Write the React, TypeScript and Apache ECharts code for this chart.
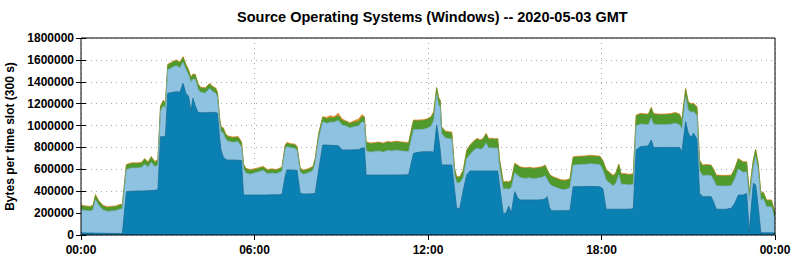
import React, { useEffect, useRef } from "react";
import * as echarts from "echarts";

// time in hours (GMT)
const hours = [
  0.0, 0.17, 0.33, 0.42, 0.5, 0.6, 0.75, 0.9, 1.05, 1.2, 1.35, 1.43, 1.57, 1.75, 1.95, 2.1, 2.2, 2.32, 2.43, 2.55,
  2.66, 2.75, 2.85, 2.92, 3.0, 3.1, 3.2, 3.3, 3.42, 3.53, 3.63, 3.72, 3.8, 3.87, 3.95, 4.05, 4.14, 4.3, 4.45, 4.55,
  4.67, 4.72, 4.79, 4.84, 4.92, 5.0, 5.08, 5.25, 5.43, 5.55, 5.62, 5.7, 5.85, 6.0, 6.1, 6.3, 6.45, 6.6, 6.75, 6.95,
  7.06, 7.12, 7.25, 7.4, 7.47, 7.58, 7.7, 7.85, 8.02, 8.1, 8.22, 8.36, 8.5, 8.62, 8.75, 8.9, 9.03, 9.15, 9.3, 9.45,
  9.6, 9.72, 9.8, 9.86, 10.0, 10.15, 10.3, 10.45, 10.6, 10.75, 10.9, 11.1, 11.33, 11.5, 11.65, 11.8, 11.95, 12.1, 12.2, 12.3,
  12.36, 12.42, 12.47, 12.6, 12.7, 12.82, 12.92, 12.99, 13.1, 13.22, 13.34, 13.45, 13.58, 13.7, 13.8, 13.9, 14.01, 14.1, 14.2, 14.3,
  14.41, 14.47, 14.6, 14.7, 14.79, 14.88, 15.0, 15.1, 15.18, 15.35, 15.5, 15.65, 15.8, 15.95, 16.05, 16.12, 16.2, 16.27, 16.45, 16.6,
  16.75, 16.91, 17.02, 17.2, 17.4, 17.6, 17.8, 17.95, 18.05, 18.16, 18.3, 18.4, 18.5, 18.6, 18.68, 18.8, 18.95, 19.1, 19.2, 19.35,
  19.5, 19.62, 19.72, 19.8, 20.0, 20.2, 20.4, 20.55, 20.7, 20.78, 20.91, 21.0, 21.1, 21.18, 21.3, 21.39, 21.5, 21.65, 21.79, 21.88,
  21.97, 22.15, 22.3, 22.49, 22.61, 22.73, 22.9, 23.02, 23.11, 23.25, 23.33, 23.42, 23.51, 23.59, 23.71, 23.88, 24.0,
];

// bytes per slot, in thousands
const darkBlue = [
  20, 18, 18, 18, 17, 17, 16, 15, 15, 14, 14, 14, 396, 400, 402, 403, 403, 405, 407, 408,
  415, 898, 900, 900, 1295, 1300, 1305, 1310, 1305, 1386, 1290, 1270, 1130, 1249, 1180, 1120, 1117, 1117, 1120, 1120,
  1120, 1110, 900, 777, 715, 690, 685, 685, 683, 680, 365, 365, 365, 365, 365, 365, 366, 367, 367, 370,
  533, 594, 594, 592, 590, 380, 375, 375, 377, 380, 594, 822, 822, 820, 818, 815, 777, 777, 777, 778,
  780, 795, 795, 548, 548, 548, 548, 548, 548, 548, 548, 549, 550, 746, 755, 760, 761, 761, 755, 1005,
  900, 780, 640, 640, 640, 640, 411, 244, 244, 411, 548, 585, 585, 585, 585, 585, 585, 585, 585, 585,
  585, 460, 198, 198, 265, 200, 396, 340, 320, 320, 320, 320, 320, 322, 330, 350, 250, 222, 222, 222,
  222, 225, 442, 442, 443, 443, 443, 440, 420, 235, 235, 235, 235, 235, 235, 235, 236, 240, 777, 807,
  810, 815, 868, 800, 800, 800, 800, 800, 800, 761, 1035, 930, 890, 929, 880, 381, 350, 350, 350, 300,
  235, 235, 235, 244, 290, 365, 365, 380, 30, 472, 457, 259, 21, 20, 20, 20, 20,
];

const lightBlue = [
  211, 204, 201, 214, 305, 260, 215, 200, 204, 208, 223, 223, 201, 212, 210, 214, 244, 215, 258, 216,
  227, 229, 280, 252, 212, 222, 232, 237, 222, 191, 222, 192, 267, 173, 242, 212, 185, 180, 218, 192,
  172, 142, 133, 165, 217, 187, 172, 162, 169, 125, 242, 202, 190, 202, 209, 224, 194, 200, 193, 212,
  251, 213, 203, 200, 182, 194, 181, 192, 212, 277, 288, 211, 198, 210, 212, 232, 228, 220, 200, 212,
  215, 240, 232, 222, 209, 214, 219, 209, 224, 219, 227, 218, 212, 217, 207, 204, 211, 231, 294, 276,
  292, 385, 287, 247, 242, 238, 140, 231, 233, 115, 151, 149, 187, 210, 197, 207, 256, 207, 212, 207,
  210, 162, 221, 224, 154, 232, 171, 207, 206, 197, 202, 194, 200, 205, 212, 157, 222, 230, 210, 195,
  192, 207, 195, 200, 201, 207, 204, 202, 172, 267, 235, 212, 237, 315, 227, 229, 221, 222, 221, 207,
  200, 192, 201, 212, 207, 207, 212, 222, 207, 202, 227, 210, 232, 198, 215, 206, 192, 197, 192, 202,
  215, 212, 212, 206, 221, 237, 207, 197, 286, 145, 258, 328, 297, 313, 237, 237, 120,
];

const green = [
  35, 35, 35, 35, 40, 35, 35, 35, 35, 35, 35, 35, 40, 40, 40, 40, 45, 40, 45, 40,
  40, 45, 45, 45, 45, 45, 45, 45, 45, 45, 40, 40, 40, 40, 40, 40, 40, 40, 40, 40,
  40, 40, 40, 40, 40, 40, 40, 40, 40, 40, 35, 35, 35, 30, 30, 30, 30, 30, 30, 30,
  30, 30, 30, 30, 30, 30, 30, 30, 30, 35, 40, 40, 40, 40, 40, 40, 40, 40, 40, 40,
  40, 45, 45, 75, 75, 75, 75, 75, 75, 75, 75, 75, 75, 80, 80, 80, 80, 80, 70, 60,
  60, 60, 55, 55, 55, 55, 50, 50, 50, 60, 70, 80, 80, 80, 80, 80, 80, 80, 80, 80,
  80, 70, 60, 60, 60, 60, 80, 85, 90, 90, 90, 90, 90, 90, 90, 85, 80, 80, 80, 80,
  80, 75, 70, 70, 70, 70, 70, 70, 80, 90, 90, 90, 90, 90, 90, 90, 90, 90, 90, 90,
  90, 90, 90, 90, 90, 90, 90, 90, 90, 80, 70, 70, 70, 70, 70, 90, 90, 90, 90, 90,
  90, 90, 90, 90, 90, 90, 90, 85, 60, 60, 60, 60, 55, 55, 55, 55, 50,
];

const orange = [
  8, 8, 8, 8, 8, 8, 8, 8, 8, 8, 8, 8, 8, 8, 8, 8, 8, 8, 8, 8,
  8, 8, 8, 8, 8, 8, 8, 8, 8, 8, 8, 8, 8, 8, 8, 8, 8, 8, 8, 8,
  8, 8, 8, 8, 8, 8, 8, 8, 8, 8, 8, 8, 8, 8, 8, 8, 8, 8, 8, 8,
  8, 8, 8, 8, 8, 8, 8, 8, 8, 8, 8, 8, 15, 20, 10, 25, 15, 8, 8, 15,
  25, 20, 8, 8, 8, 8, 8, 8, 8, 8, 8, 8, 8, 8, 8, 8, 8, 8, 8, 8,
  8, 8, 8, 8, 8, 8, 8, 8, 8, 8, 8, 8, 8, 8, 8, 8, 8, 8, 8, 8,
  8, 8, 8, 8, 8, 8, 8, 8, 8, 8, 8, 8, 8, 8, 8, 8, 8, 8, 8, 8,
  8, 8, 8, 8, 8, 8, 8, 8, 8, 8, 8, 8, 8, 8, 8, 8, 8, 8, 8, 8,
  8, 8, 8, 8, 8, 8, 8, 8, 8, 8, 8, 8, 8, 8, 8, 8, 8, 8, 8, 8,
  8, 8, 8, 8, 8, 8, 8, 8, 8, 8, 8, 8, 8, 8, 8, 8, 8,
];

const xTicks = ["00:00", "06:00", "12:00", "18:00", "00:00"];
const titleText = "Source Operating Systems (Windows) -- 2020-05-03 GMT";
const yName = "Bytes per time slot (300 s)";

const FONT = "'Liberation Sans', Arial, sans-serif";

export default function App() {
  const ref = useRef<HTMLDivElement>(null);

  useEffect(() => {
    if (!ref.current) return;
    const chart = echarts.init(ref.current, null, { renderer: "svg" });

    const layers = [
      { name: "dark", data: darkBlue, fill: "#0a80b3", line: "#1a6d96" },
      { name: "light", data: lightBlue, fill: "#8dc3e1", line: "#7fb3d0" },
      { name: "green", data: green, fill: "#4e9a2d", line: "#4e9a2d" },
      { name: "orange", data: orange, fill: "#d98a2b", line: "#d98a2b" },
    ];

    // stack the layers (cumulative sums), then draw the top layer first
    const cum = hours.map(() => 0);
    const stacked = layers.map((l) => {
      const pts = hours.map((h, i) => {
        cum[i] += l.data[i] * 1000;
        return [h, cum[i]];
      });
      return { ...l, pts };
    });
    const drawOrder = stacked.slice().reverse();

    const tickStyle = { show: true, inside: true, length: 5, lineStyle: { color: "#000", width: 1 } };

    chart.setOption({
      animation: false,
      backgroundColor: "#fff",
      title: {
        text: titleText,
        left: 232,
        top: 4,
        textStyle: { fontFamily: FONT, fontWeight: "bold", fontSize: 14.5, color: "#000" },
      },
      grid: {
        left: 81,
        right: 20,
        top: 38,
        bottom: 25,
        containLabel: false,
        outerBoundsMode: "none",
        show: true,
        borderColor: "#000",
        borderWidth: 1,
        backgroundColor: "transparent",
        z: 10,
      },
      xAxis: [
        {
          type: "value",
          position: "bottom",
          min: 0,
          max: 24,
          interval: 6,
          axisLine: { show: false },
          axisTick: { show: false },
          axisLabel: {
            margin: 9,
            fontFamily: FONT,
            fontWeight: "bold",
            fontSize: 12,
            color: "#000",
            formatter: (v: number) => xTicks[Math.round(v / 6)],
          },
          splitLine: { show: true, lineStyle: { color: "#a8a8a8", type: [1, 4], width: 1 } },
        },
        {
          type: "value",
          position: "top",
          min: 0,
          max: 24,
          interval: 6,
          axisLine: { show: false },
          axisTick: tickStyle,
          axisLabel: { show: false },
          splitLine: { show: false },
        },
      ],
      yAxis: [
        {
          type: "value",
          position: "left",
          min: 0,
          max: 1800000,
          interval: 200000,
          name: yName,
          nameLocation: "middle",
          nameRotate: 90,
          nameGap: 62,
          nameTextStyle: { fontFamily: FONT, fontWeight: "bold", fontSize: 12, color: "#000" },
          axisLine: { show: false },
          axisTick: tickStyle,
          axisLabel: {
            margin: 7,
            fontFamily: FONT,
            fontWeight: "bold",
            fontSize: 12,
            color: "#000",
            formatter: (v: number) => String(v),
          },
          splitLine: { show: true, lineStyle: { color: "#a8a8a8", type: [1, 4], width: 1 } },
        },
        {
          type: "value",
          position: "right",
          min: 0,
          max: 1800000,
          interval: 200000,
          axisLine: { show: false },
          axisTick: tickStyle,
          axisLabel: { show: false },
          splitLine: { show: false },
        },
      ],
      series: drawOrder.map((l) => ({
        name: l.name,
        type: "line",
        xAxisIndex: 0,
        yAxisIndex: 0,
        data: l.pts,
        symbol: "none",
        showSymbol: false,
        lineStyle: { color: l.line, width: 0.8 },
        areaStyle: { color: l.fill, opacity: 1 },
        itemStyle: { color: l.fill },
        z: 2,
      })),
    });

    return () => chart.dispose();
  }, []);

  return (
    <div
      ref={ref}
      style={{ position: "fixed", left: 0, top: 0, width: 795, height: 260 }}
    />
  );
}
